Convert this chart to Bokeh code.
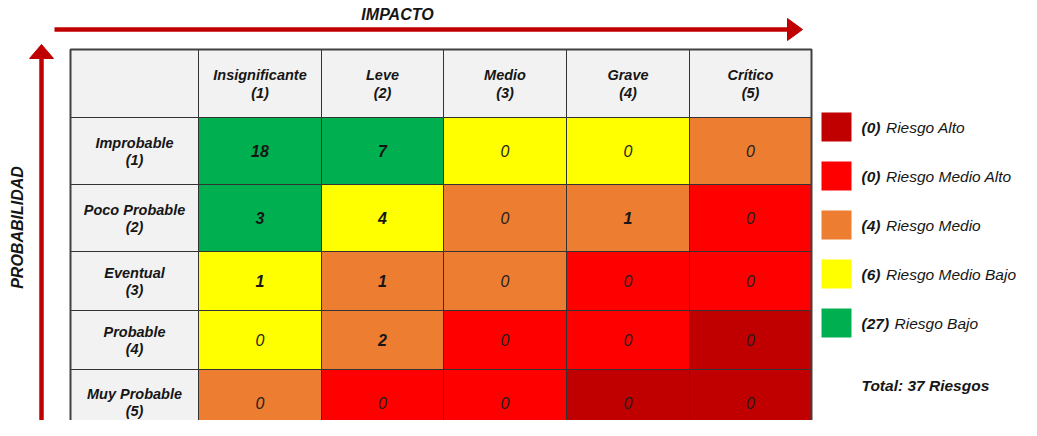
from bokeh.plotting import figure
from bokeh.models import Range1d, ColumnDataSource
from bokeh.core.properties import value
from bokeh.embed import file_html
from bokeh.resources import INLINE

# ---------------- data ----------------
impact_labels = ["Insignificante", "Leve", "Medio", "Grave", "Crítico"]
prob_labels = ["Improbable", "Poco Probable", "Eventual", "Probable", "Muy Probable"]
counts = [
    [18, 7, 0, 0, 0],
    [3, 4, 0, 1, 0],
    [1, 1, 0, 0, 0],
    [0, 2, 0, 0, 0],
    [0, 0, 0, 0, 0],
]
levels = [
    ["B", "B", "MB", "MB", "M"],
    ["B", "MB", "M", "M", "MA"],
    ["MB", "M", "M", "MA", "MA"],
    ["MB", "M", "MA", "MA", "A"],
    ["M", "MA", "MA", "A", "A"],
]
legend_keys = ["A", "MA", "M", "MB", "B"]
legend_names = ["Riesgo Alto", "Riesgo Medio Alto", "Riesgo Medio", "Riesgo Medio Bajo", "Riesgo Bajo"]
legend_counts = [0, 0, 4, 6, 27]
total_label = "Total: 37 Riesgos"
x_title = "IMPACTO"
y_title = "PROBABILIDAD"

# ---------------- styles / layout ----------------
level_colors = {"A": "#C00000", "MA": "#FF0000", "M": "#ED7D31", "MB": "#FFFF00", "B": "#00B050"}
FONT = value("Liberation Sans")
TXT = "#161616"
HEAD_BG = "#F2F2F2"
ARROW = "#C00000"
col_edges = [70, 198, 321, 443, 566, 689, 811]
row_edges = [49, 117, 184, 251, 310, 369, 435]

W, H = 1021, 420
p = figure(width=W, height=H, output_backend="svg", toolbar_location=None,
           x_range=Range1d(0, W), y_range=Range1d(H, 0),
           min_border=0, outline_line_color=None, background_fill_color="white")
p.axis.visible = False
p.grid.visible = False

# ---------------- cells ----------------
cl, cr, ct, cb, cc = [], [], [], [], []
for i in range(6):
    for j in range(6):
        cl.append(col_edges[j]); cr.append(col_edges[j + 1])
        ct.append(row_edges[i]); cb.append(row_edges[i + 1])
        if i == 0 or j == 0:
            cc.append(HEAD_BG)
        else:
            cc.append(level_colors[levels[i - 1][j - 1]])
p.quad(left=cl, right=cr, top=ct, bottom=cb, fill_color=cc,
       line_color="#333333", line_width=1)
p.quad(left=[col_edges[0]], right=[col_edges[-1]], top=[row_edges[0]], bottom=[row_edges[-1]],
       fill_color=None, line_color="#404040", line_width=2)

def cx(j):
    return (col_edges[j] + col_edges[j + 1]) / 2

def cy(i):
    return (row_edges[i] + row_edges[i + 1]) / 2

# header labels (impact)
hx = [cx(j + 1) for j in range(5)]
p.text(x=hx, y=[cy(0) - 9] * 5, text=impact_labels, text_align="center", text_baseline="middle",
       text_font=FONT, text_font_style="bold italic", text_font_size="14.5px", text_color=TXT)
p.text(x=hx, y=[cy(0) + 9] * 5, text=[f"({k + 1})" for k in range(5)], text_align="center",
       text_baseline="middle", text_font=FONT, text_font_style="bold italic",
       text_font_size="14.5px", text_color=TXT)

# row labels (probability)
ry = [cy(i + 1) for i in range(5)]
p.text(x=[cx(0)] * 5, y=[v - 8.5 for v in ry], text=prob_labels, text_align="center",
       text_baseline="middle", text_font=FONT, text_font_style="bold italic",
       text_font_size="14.5px", text_color=TXT)
p.text(x=[cx(0)] * 5, y=[v + 8.5 for v in ry], text=[f"({k + 1})" for k in range(5)],
       text_align="center", text_baseline="middle", text_font=FONT,
       text_font_style="bold italic", text_font_size="14.5px", text_color=TXT)

# counts
nz = dict(x=[], y=[], t=[])
zz = dict(x=[], y=[], t=[])
for i in range(5):
    for j in range(5):
        d = nz if counts[i][j] != 0 else zz
        d["x"].append(cx(j + 1)); d["y"].append(cy(i + 1)); d["t"].append(str(counts[i][j]))
p.text(x="x", y="y", text="t", source=ColumnDataSource(nz), text_align="center",
       text_baseline="middle", text_font=FONT, text_font_style="bold italic",
       text_font_size="16px", text_color=TXT)
p.text(x="x", y="y", text="t", source=ColumnDataSource(zz), text_align="center",
       text_baseline="middle", text_font=FONT, text_font_style="italic",
       text_font_size="16px", text_color="#1e1e1e")

# ---------------- arrows ----------------
p.segment(x0=[54], y0=[29], x1=[789], y1=[29], line_color=ARROW, line_width=4.5)
p.patch(x=[787, 802, 787], y=[18, 29, 40], fill_color=ARROW, line_color=ARROW)
p.text(x=[397], y=[14], text=[x_title], text_align="center", text_baseline="middle",
       text_font=FONT, text_font_style="bold italic", text_font_size="16px", text_color=TXT)

p.segment(x0=[41], y0=[440], x1=[41], y1=[56], line_color=ARROW, line_width=4.5)
p.patch(x=[29, 41, 53], y=[58, 44, 58], fill_color=ARROW, line_color=ARROW)
p.text(x=[17], y=[227], text=[y_title], text_align="center", text_baseline="middle",
       angle=1.5708, text_font=FONT, text_font_style="bold italic", text_font_size="16px",
       text_color=TXT)

# ---------------- legend ----------------
LX = 821
LFS = 15.5
ly = [126.5 + 49 * k for k in range(5)]
p.quad(left=[LX] * 5, right=[LX + 30] * 5, top=[v - 14.5 for v in ly], bottom=[v + 14.5 for v in ly],
       fill_color=[level_colors[k] for k in legend_keys], line_color=None)
cnt_txt = [f"({c})" for c in legend_counts]
p.text(x=[LX + 40] * 5, y=ly, text=cnt_txt, text_align="left", text_baseline="middle",
       text_font=FONT, text_font_style="bold italic", text_font_size=f"{LFS}px", text_color=TXT)
name_x = [LX + 40 + LFS * (0.666 + 0.556 * (len(t) - 2)) + 5.5 for t in cnt_txt]
p.text(x=name_x, y=ly, text=legend_names, text_align="left", text_baseline="middle",
       text_font=FONT, text_font_style="italic", text_font_size=f"{LFS}px", text_color=TXT)
p.text(x=[LX + 40], y=[385], text=[total_label], text_align="left", text_baseline="middle",
       text_font=FONT, text_font_style="bold italic", text_font_size=f"{LFS}px", text_color=TXT)

open("out.html", "w").write(file_html(p, INLINE))
